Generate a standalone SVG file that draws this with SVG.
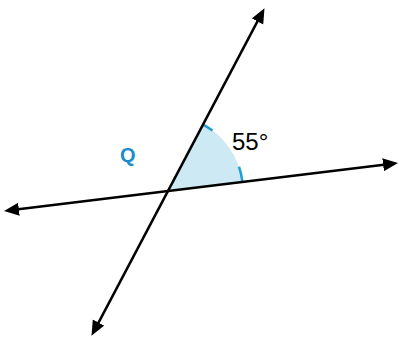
<svg xmlns="http://www.w3.org/2000/svg" width="399" height="337" viewBox="0 0 399 337">
<style>
.ln{stroke:#000;stroke-width:2.5;fill:none;marker-start:url(#ah);marker-end:url(#ah)}
.arc{stroke:#1e9fd2;stroke-width:2.5;fill:none}
.sector{fill:#cde9f4;stroke:none}
</style>
<defs>
<marker id="ah" markerUnits="userSpaceOnUse" markerWidth="16" markerHeight="14" refX="11" refY="6.5" orient="auto-start-reverse" viewBox="0 0 16 14">
<path d="M0,0 L15,6.5 L0,13 Z" fill="#000"/>
</marker>
</defs>
<rect width="399" height="337" fill="#fff"/>
<g id="angle">
<path class="sector" d="M168,191 L203,124.6 A75,75 0 0,1 242.4,181.9 Z"/>
<path class="arc" d="M203,124.6 A75,75 0 0,1 212.5,130.5"/>
<path class="arc" d="M239,166.6 A75,75 0 0,1 242.4,181.9"/>
</g>
<g id="connectors">
<line id="lineA" class="ln" x1="8" y1="210.6" x2="394" y2="163.4"/>
<line id="lineB" class="ln" x1="93.4" y1="332.3" x2="262.6" y2="11.7"/>
</g>
<g id="label-55">
<text x="232" y="150" font-family="Liberation Sans, Arial, sans-serif" font-size="24" fill="#000">55°</text>
</g>
<g id="label-Q">
<text x="120" y="162" font-family="Liberation Sans, Arial, sans-serif" font-size="20" font-weight="bold" fill="#1a8cc9">Q</text>
</g>
</svg>
